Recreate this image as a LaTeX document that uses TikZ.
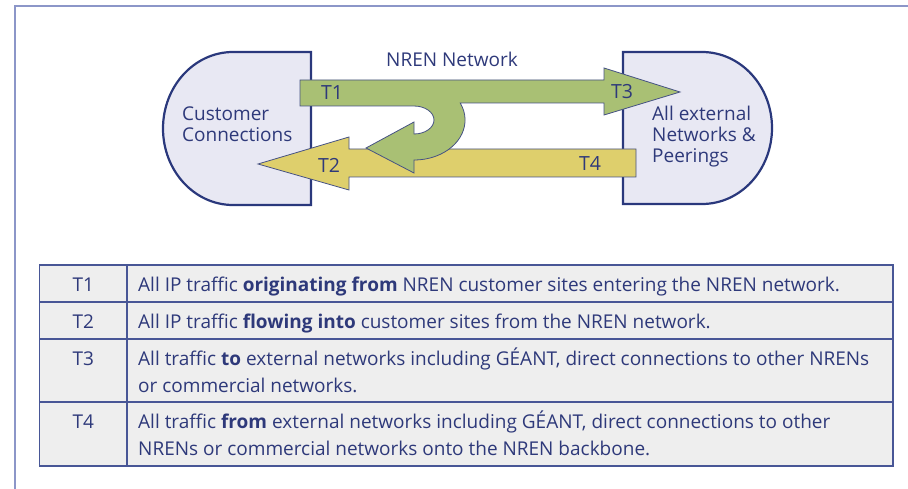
\documentclass[tikz,border=0pt]{standalone}
\usepackage{fontspec}
\setmainfont{Open Sans}
\usetikzlibrary{positioning}

\definecolor{navy}{RGB}{42,56,124}
\definecolor{textblue}{RGB}{46,57,122}
\definecolor{shapefill}{RGB}{232,232,243}
\definecolor{flowgreen}{RGB}{169,192,116}
\definecolor{flowyellow}{RGB}{222,207,108}
\definecolor{flowline}{RGB}{70,82,132}
\definecolor{tablefill}{RGB}{238,238,238}
\definecolor{tableline}{RGB}{72,86,150}
\definecolor{framecol}{RGB}{140,150,200}

\tikzset{
	endpoint/.style={draw=navy, line width=2.2pt, fill=shapefill},
	flow/.style={draw=flowline, line width=0.8pt, line join=miter}, % the traffic arrows
	flowlabel/.style={text=textblue, font=\fontsize{19.5}{19.5}\selectfont, inner sep=0pt},
	boxtext/.style={text=textblue, font=\fontsize{19}{21}\selectfont, inner sep=0pt, align=left},
	cell/.style={draw=tableline, line width=1.2pt, fill=tablefill, outer sep=0pt, inner sep=0pt, anchor=north west},
	keycell/.style={cell, minimum width=87.5pt},
	desccell/.style={cell, minimum width=766pt},
	celltext/.style={text=textblue, font=\fontsize{19}{27}\selectfont, inner sep=0pt, align=left},
}

\begin{document}
\begin{tikzpicture}[x=1pt, y=-1pt]
      \useasboundingbox (0,0) rectangle (908,489);
      \draw[framecol, line width=2pt] (15,489) -- (15,6) -- (908,6);

      % the two ends
      \draw[endpoint] (311,52) -- (233,52) arc[start angle=90, end angle=270, x radius=70pt, y radius=76.5pt] -- (311,205) -- cycle;
      \draw[endpoint] (623,52) -- (702,52) arc[start angle=90, end angle=-90, x radius=70pt, y radius=76pt] -- (623,204) -- cycle;

      % T4 / T2
      \draw[flow, fill=flowyellow] (636,149) -- (636,177) -- (349,177) -- (349,190) -- (258,164) -- (349,137) -- (349,149) -- cycle;
      % T1 / T3 with the turn back
      \draw[flow, fill=flowgreen] (300,80) -- (604,80) -- (604,68) -- (680,92) -- (604,115) -- (604,103) -- (460.2,103)
            arc[start angle=25.2, end angle=-90, x radius=51pt, y radius=40pt]
            -- (414,173) -- (366,148) -- (414,122) -- (414,134)
            arc[start angle=-90, end angle=90, x radius=20pt, y radius=14pt]
            -- (300,106) -- cycle;

      \node[boxtext] (nren) at (452,59) {NREN Network};
      \node[boxtext, anchor=west] (cust) at (182,124.5) {Customer\\Connections};
      \node[boxtext, anchor=west] (ext) at (652,137) {All external\\Networks \&\\Peerings};

      \node[flowlabel] (l1) at (332,93) {T1};
      \node[flowlabel] (l2) at (329,165) {T2};
      \node[flowlabel] (l3) at (622,92) {T3};
      \node[flowlabel] (l4) at (590,164) {T4};

      % table
      \node[keycell, minimum height=37pt] (k1) at (39.5,265) {};
      \node[desccell, minimum height=37pt, right=0pt of k1] (d1) {};
      \node[keycell, minimum height=37pt, below=0pt of k1] (k2) {};
      \node[desccell, minimum height=37pt, right=0pt of k2] (d2) {};
      \node[keycell, minimum height=63pt, below=0pt of k2] (k3) {};
      \node[desccell, minimum height=63pt, right=0pt of k3] (d3) {};
      \node[keycell, minimum height=64pt, below=0pt of k3] (k4) {};
      \node[desccell, minimum height=64pt, right=0pt of k4] (d4) {};

      \node[celltext, anchor=north] (t1) at ([yshift=-7pt]k1.north) {\strut T1};
      \node[celltext, anchor=north] (t2) at ([yshift=-7pt]k2.north) {\strut T2};
      \node[celltext, anchor=north] (t3) at ([yshift=-7pt]k3.north) {\strut T3};
      \node[celltext, anchor=north] (t4) at ([yshift=-7pt]k4.north) {\strut T4};

      \node[celltext, anchor=north west] (s1) at ([xshift=11pt, yshift=-7pt]d1.north west)
            {\strut All IP traffic \textbf{originating from} NREN customer sites entering the NREN network.};
      \node[celltext, anchor=north west] (s2) at ([xshift=11pt, yshift=-7pt]d2.north west)
            {\strut All IP traffic \textbf{flowing into} customer sites from the NREN network.};
      \node[celltext, anchor=north west] (s3) at ([xshift=11pt, yshift=-7pt]d3.north west)
            {\strut All traffic \textbf{to} external networks including GÉANT, direct connections to other NRENs\\\strut or commercial networks.};
      \node[celltext, anchor=north west] (s4) at ([xshift=11pt, yshift=-7pt]d4.north west)
            {\strut All traffic \textbf{from} external networks including GÉANT, direct connections to other\\\strut NRENs or commercial networks onto the NREN backbone.};
\end{tikzpicture}
\end{document}
